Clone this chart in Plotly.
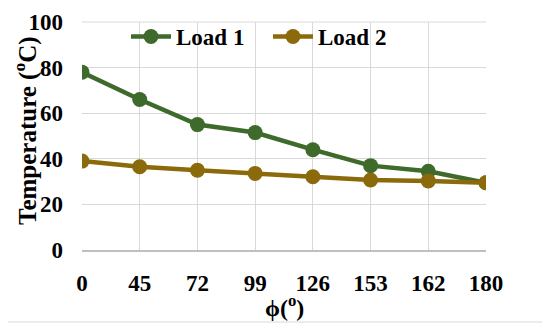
import plotly.graph_objects as go

phi = ["0", "45", "72", "99", "126", "153", "162", "180"]
load1 = [78, 66, 55, 51.5, 44, 37, 34.5, 29.5]
load2 = [39, 36.5, 35, 33.6, 32.1, 30.7, 30.3, 29.5]

green = "#3e6a2b"
brown = "#8a6a0a"
FAM = "Liberation Serif, Times New Roman, serif"
bfont = dict(family=FAM, size=23, color="black", weight="bold")

fig = go.Figure()
fig.add_trace(go.Scatter(x=phi, y=load1, name="Load 1", mode="lines+markers",
                         line=dict(color=green, width=4.5),
                         marker=dict(color=green, size=15)))
fig.add_trace(go.Scatter(x=phi, y=load2, name="Load 2", mode="lines+markers",
                         line=dict(color=brown, width=4.5),
                         marker=dict(color=brown, size=15)))

OFF = 8  # page body margin
W, H = 550 - OFF, 328 - OFF
L, T = 82 - OFF, 22 - OFF
R = W - (486 - OFF)
B = H - (250 - OFF)
pw, ph = W - L - R, H - T - B

def px(x):
    return (x - OFF - L) / pw

def py(y):
    return (H - B - (y - OFF)) / ph

fig.update_layout(
    width=W, height=H,
    margin=dict(l=L, r=R, t=T, b=B, autoexpand=False),
    paper_bgcolor="white", plot_bgcolor="white",
    font=bfont,
    showlegend=True,
    legend=dict(orientation="h", x=px(126), xanchor="left", y=py(15), yanchor="top",
                bgcolor="rgba(0,0,0,0)", font=dict(family=FAM, size=23, color="black", weight="bold"),
                itemwidth=40, entrywidth=87),
    xaxis=dict(type="category", range=[0, 7], showgrid=True, gridcolor="#d9d9d9", gridwidth=1,
               showline=True, linecolor="#bfbfbf", linewidth=1.5, zeroline=False,
               automargin=False, tickfont=bfont, ticklabelstandoff=12),
    yaxis=dict(range=[0, 100], dtick=20, showgrid=True, gridcolor="#d9d9d9", gridwidth=1,
               showline=False, zeroline=False, automargin=False,
               tickfont=bfont, ticklabelstandoff=18),
    annotations=[
        dict(text="ϕ(<sup>o</sup>)", xref="paper", yref="paper", x=px(284), y=py(306),
             xanchor="center", yanchor="middle", showarrow=False,
             font=dict(family=FAM, size=24, color="black", weight="bold")),
        dict(text="Temperature (<sup>o</sup>C)", xref="paper", yref="paper", x=px(25), y=py(131),
             xanchor="center", yanchor="middle", showarrow=False, textangle=-90,
             font=dict(family=FAM, size=25, color="black", weight="bold")),
    ],
    shapes=[dict(type="rect", xref="paper", yref="paper",
                 x0=px(5), x1=px(544), y0=py(322), y1=py(4),
                 line=dict(color="#d9d9d9", width=1), layer="below"),
            dict(type="line", xref="paper", yref="paper", x0=0, x1=1, y0=1, y1=1,
                 line=dict(color="#d9d9d9", width=1))],
)
fig.write_html("out.html")
